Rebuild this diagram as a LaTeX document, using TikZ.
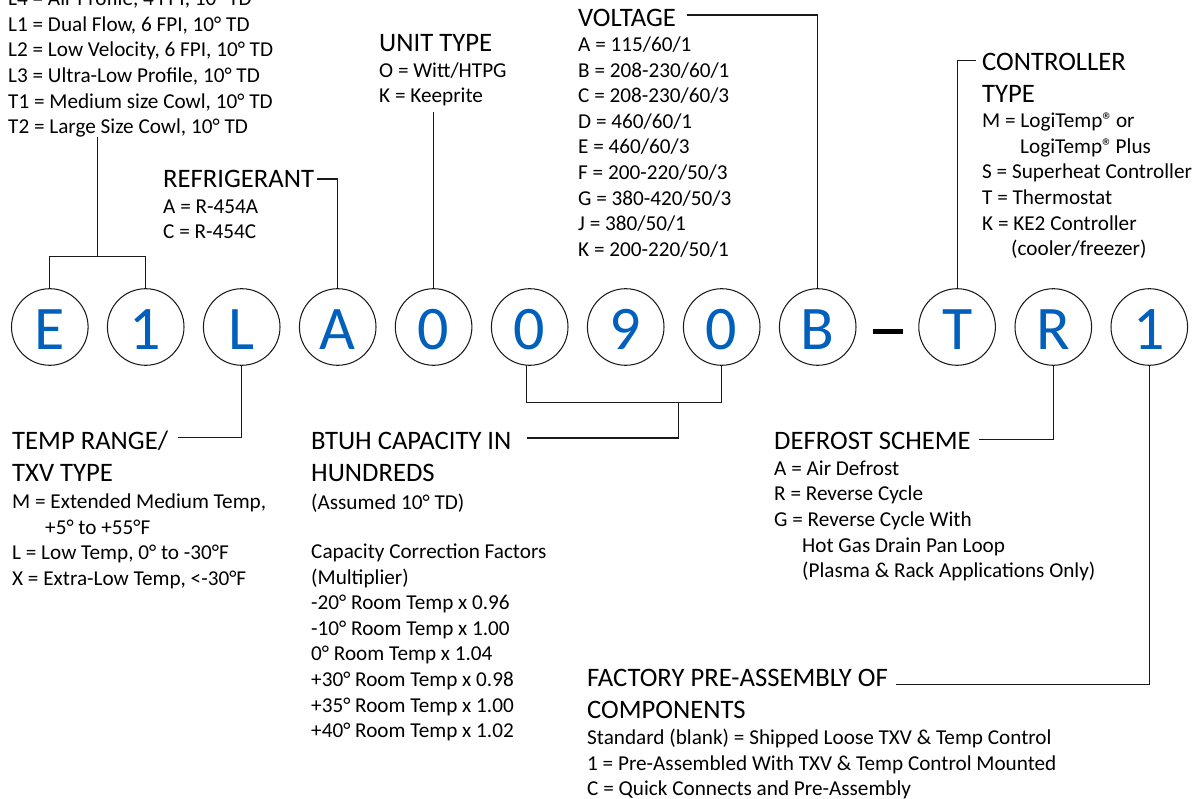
\documentclass[tikz,border=0pt]{standalone}
\usepackage{fontspec}
\setmainfont{Carlito}
\definecolor{codeblue}{HTML}{0060BC}
\definecolor{linegray}{HTML}{1A1A1A}
\tikzset{
  x=1pt,y=-1pt,
  codecircle/.style={circle,draw=linegray,line width=1.05pt,minimum size=76.6pt,inner sep=0pt,
    text=codeblue,font=\fontsize{62}{62}\selectfont,text height=46pt,text depth=0pt},
  head/.style={anchor=base west,inner sep=0pt,align=left,yshift=-0.7pt,font=\fontsize{26.67}{32}\selectfont},
  body/.style={anchor=base west,inner sep=0pt,align=left,yshift=-0.7pt,font=\fontsize{21.2}{25.6}\selectfont},
  link/.style={draw=linegray,line width=1.15pt,line join=miter}
}
\begin{document}
\begin{tikzpicture}
\useasboundingbox (0,0) rectangle (1192,799);
\clip (0,0) rectangle (1192,799);
% code circles
\node[codecircle] (cE) at (49.8,327) {E};
\node[codecircle] (cOne) at (145.7,327) {1};
\node[codecircle] (cL) at (241.7,327) {L};
\node[codecircle] (cA) at (337.7,327) {A};
\node[codecircle] (cZa) at (433.6,327) {0};
\node[codecircle] (cZb) at (529.7,327) {0};
\node[codecircle] (cNine) at (625.7,327) {9};
\node[codecircle] (cZc) at (721.7,327) {0};
\node[codecircle] (cB) at (817.7,327) {B};
\node[codecircle] (cT) at (957.1,327) {T};
\node[codecircle] (cR) at (1053.3,327) {R};
\node[codecircle] (cLast) at (1149.3,327) {1};
\fill[black] (873,328.7) rectangle (903,333.7);
% top-left block
\node[body] (modelbody) at (8,133) {L4 = Air Profile, 4 FPI, 10° TD\\L1 = Dual Flow, 6 FPI, 10° TD\\L2 = Low Velocity, 6 FPI, 10° TD\\L3 = Ultra-Low Profile, 10° TD\\T1 = Medium size Cowl, 10° TD\\T2 = Large Size Cowl, 10° TD};
% refrigerant
\node[head] (refhead) at (163,187) {REFRIGERANT};
\node[body] (refbody) at (163,238) {A = R-454A\\C = R-454C};
% unit type
\node[head] (unithead) at (379,51) {UNIT TYPE};
\node[body] (unitbody) at (379,102) {O = Witt/HTPG\\K = Keeprite};
% voltage
\node[head] (volthead) at (578,26) {VOLTAGE};
\node[body] (voltbody) at (578,255.7) {A = 115/60/1\\B = 208-230/60/1\\C = 208-230/60/3\\D = 460/60/1\\E = 460/60/3\\F = 200-220/50/3\\G = 380-420/50/3\\J = 380/50/1\\K = 200-220/50/1};
% controller
\node[head] (ctrlhead) at (982,101.5) {CONTROLLER\\TYPE};
\node[body] (ctrlbody) at (982,255) {M = LogiTemp®\kern-2pt{} or\\\hspace*{38pt}LogiTemp®\kern-2pt{} Plus\\S = Superheat Controller\\T = Thermostat\\K = KE2 Controller\\\hspace*{29pt}(cooler/freezer)};
% temp range
\node[head] (temphead) at (12,481) {TEMP RANGE/\\TXV TYPE};
\node[body] (tempbody) at (12,584.5) {M = Extended Medium Temp,\\\hspace*{33pt}+5° to +55°F\\L = Low Temp, 0° to -30°F\\X = Extra-Low Temp, <-30°F};
% capacity
\node[head] (caphead) at (311,481) {BTUH CAPACITY IN\\HUNDREDS};
\node[body] (capnote) at (311,508.5) {(Assumed 10° TD)};
\node[body] (capbody) at (311,737) {Capacity Correction Factors\\(Multiplier)\\-20° Room Temp x 0.96\\-10° Room Temp x 1.00\\0° Room Temp x 1.04\\+30° Room Temp x 0.98\\+35° Room Temp x 1.00\\+40° Room Temp x 1.02};
% defrost
\node[head] (defhead) at (774,449) {DEFROST SCHEME};
\node[body] (defbody) at (774,577) {A = Air Defrost\\R = Reverse Cycle\\G = Reverse Cycle With\\\hspace*{28pt}Hot Gas Drain Pan Loop\\\hspace*{28pt}(Plasma \& Rack Applications Only)};
% factory
\node[head] (facthead) at (587,718) {FACTORY PRE-ASSEMBLY OF\\COMPONENTS};
\node[body] (factbody) at (587,795) {Standard (blank) = Shipped Loose TXV \& Temp Control\\1 = Pre-Assembled With TXV \& Temp Control Mounted\\C = Quick Connects and Pre-Assembly};
% connector free ends
\coordinate (modelEnd) at (97.7,137);
\coordinate (modelJoin) at (97.7,256.5);
\coordinate (refEnd) at (317.3,179);
\coordinate (unitEnd) at (433.6,112);
\coordinate (voltEnd) at (686.7,15);
\coordinate (ctrlEnd) at (976,60.7);
\coordinate (tempEnd) at (178.3,437.3);
\coordinate (capEnd) at (526.7,438);
\coordinate (capJoin) at (678.7,402.5);
\coordinate (capLeft) at (526.7,364.8);
\coordinate (defEnd) at (979.3,439.3);
\coordinate (factEnd) at (896,684.5);
% connectors
\draw[link] (cE.north) |- (modelJoin) -| (cOne.north);
\draw[link] (modelEnd) -- (modelJoin);
\draw[link] (refEnd) -| (cA.north);
\draw[link] (unitEnd) -- (cZa.north);
\draw[link] (voltEnd) -| (cB.north);
\draw[link] (ctrlEnd) -| (cT.north);
\draw[link] (tempEnd) -| (cL.south);
\draw[link] (capLeft) |- (capJoin) -| (cZc.south);
\draw[link] (capEnd) -| (capJoin);
\draw[link] (defEnd) -| (cR.south);
\draw[link] (factEnd) -| (cLast.south);
\end{tikzpicture}
\end{document}
